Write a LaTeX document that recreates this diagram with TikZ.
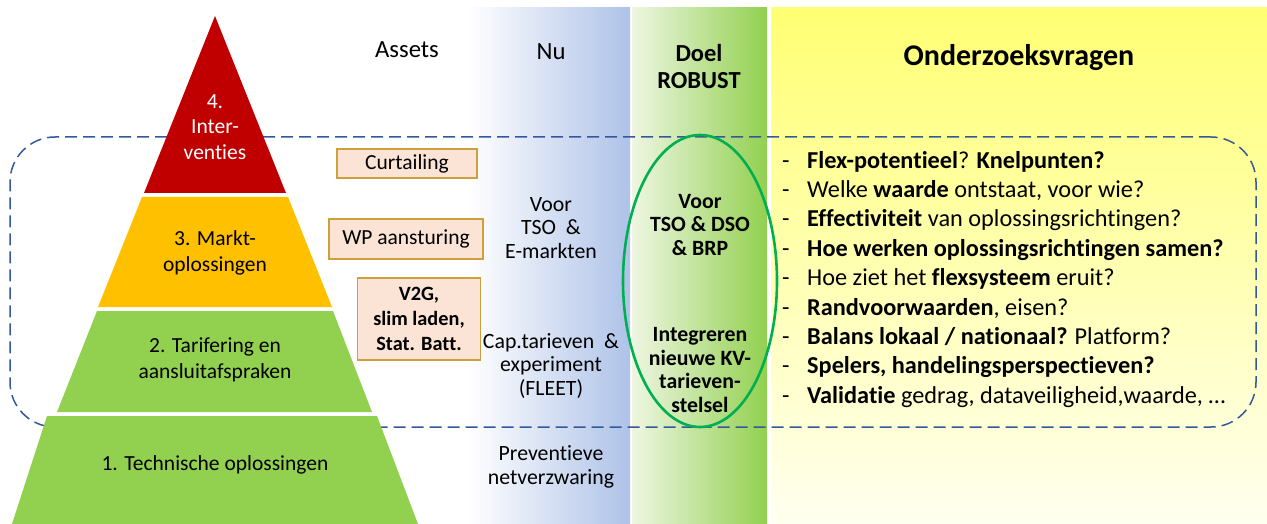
\documentclass[tikz,border=0pt]{standalone}
\usepackage{fontspec}
\setmainfont{Carlito}[Ligatures=NoCommon]
\usetikzlibrary{shapes.geometric}
\definecolor{pyred}{RGB}{192,0,0}
\definecolor{pyorange}{RGB}{255,192,0}
\definecolor{pygreen}{RGB}{146,208,80}
\definecolor{nublue}{RGB}{174,194,232}
\definecolor{doelleft}{RGB}{238,246,226}
\definecolor{doelright}{RGB}{146,208,80}
\definecolor{yeltop}{RGB}{255,255,115}
\definecolor{yelbot}{RGB}{255,255,240}
\definecolor{framecol}{RGB}{52,88,156}
\definecolor{ellcol}{RGB}{0,176,80}
\definecolor{boxfill}{RGB}{251,228,213}
\definecolor{boxline}{RGB}{205,160,60}
\newcommand{\qd}{\makebox[25pt][l]{-}}
\begin{document}
\begin{tikzpicture}[x=1pt,y=-1pt,
  txt/.style={align=center,inner sep=0pt,font=\fontsize{21.5}{25.5}\selectfont},
  nutxt/.style={align=center,inner sep=0pt,font=\fontsize{21.8}{23.5}\selectfont},
  doeltxt/.style={align=center,inner sep=0pt,font=\bfseries\fontsize{21.8}{23.7}\selectfont},
  asset/.style={draw=boxline,fill=boxfill,line width=1.2pt,align=center,inner sep=0pt,font=\fontsize{21.5}{25}\selectfont},
  qline/.style={anchor=base west,inner sep=0pt,font=\fontsize{24.3}{28}\selectfont},
  head/.style={align=center,inner sep=0pt,font=\fontsize{24.7}{27}\selectfont}]
\useasboundingbox (0,0) rectangle (1267,524);
% columns
\fill[left color=white,right color=nublue] (468,8) rectangle (630,524);
\fill[left color=doelleft,right color=doelright] (632,8) rectangle (767,524);
\fill[top color=yeltop,bottom color=yelbot] (771,8) rectangle (1267,524);
% dashed frame
\node[draw=framecol,line width=1.5pt,dash pattern=on 12pt off 6pt,rounded corners=45pt,minimum width=1246pt,minimum height=290pt] (frame) at (633,282) {};
% pyramid
\fill[pyred] (215,16) -- (286,193) -- (144,193) -- cycle;
\fill[pyorange] (142,197) -- (288,197) -- (332,307) -- (98,307) -- cycle;
\fill[pygreen] (97,311) -- (333,311) -- (372,412) -- (57,412) -- cycle;
\fill[pygreen] (47,416) -- (377,416) -- (418,524) -- (12,524) -- cycle;
\node[txt,text=white] (p4) at (215,127) {4.\\Inter-\\venties};
\node[txt] (p3) at (215,253) {3. Markt-\\oplossingen};
\node[txt] (p2) at (215,360) {2. Tarifering en\\aansluitafspraken};
\node[txt] (p1) at (215,465) {1. Technische oplossingen};
% asset boxes
\node[asset,minimum width=140pt,minimum height=29pt] (b1) at (407,163.5) {Curtailing};
\node[asset,minimum width=154pt,minimum height=40pt] (b2) at (406,239) {WP aansturing};
\node[asset,minimum width=123pt,minimum height=82pt,font=\bfseries\fontsize{20.3}{25}\selectfont] (b3) at (419,319) {V2G,\\slim laden,\\Stat. Batt.};
% headers
\node[head] (hassets) at (407,50) {Assets};
\node[head] (hnu) at (551,52) {Nu};
\node[head,font=\bfseries\fontsize{24.5}{27}\selectfont] (hdoel) at (699,66) {Doel\\ROBUST};
\node[head,font=\bfseries\fontsize{30}{32}\selectfont] (honder) at (1019,58) {Onderzoeksvragen};
% Nu column
\node[nutxt] (n1) at (551,228) {Voor\\TSO \ \&\\E-markten};
\node[nutxt] (n2) at (551,366) {Cap.tarieven \ \&\\experiment\\(FLEET)};
\node[nutxt] (n3) at (551,467) {Preventieve\\netverzwaring};
% Doel column
\node[draw=ellcol,line width=2.6pt,ellipse,minimum width=154pt,minimum height=292pt] (ell) at (700,281) {};
\node[doeltxt] (d1) at (700,225) {Voor\\TSO \& DSO\\\& BRP};
\node[doeltxt] (d2) at (700,370) {Integreren\\nieuwe KV-\\tarieven-\\stelsel};
% questions
\node[qline] (q1) at (782,168) {\qd\textbf{Flex-potentieel}? \textbf{Knelpunten?}};
\node[qline] (q2) at (782,197.4) {\qd Welke \textbf{waarde} ontstaat, voor wie?};
\node[qline] (q3) at (782,226.8) {\qd\textbf{Effectiviteit} van oplossingsrichtingen?};
\node[qline] (q4) at (782,256.2) {\qd\textbf{Hoe werken oplossingsrichtingen samen?}};
\node[qline] (q5) at (782,285.6) {\qd Hoe ziet het \textbf{flexsysteem} eruit?};
\node[qline] (q6) at (782,315) {\qd\textbf{Randvoorwaarden}, eisen?};
\node[qline] (q7) at (782,344.4) {\qd\textbf{Balans lokaal / nationaal?} Platform?};
\node[qline] (q8) at (782,373.8) {\qd\textbf{Spelers, handelingsperspectieven?}};
\node[qline] (q9) at (782,403.2) {\qd\textbf{Validatie} gedrag, dataveiligheid,waarde, …};
\end{tikzpicture}
\end{document}
